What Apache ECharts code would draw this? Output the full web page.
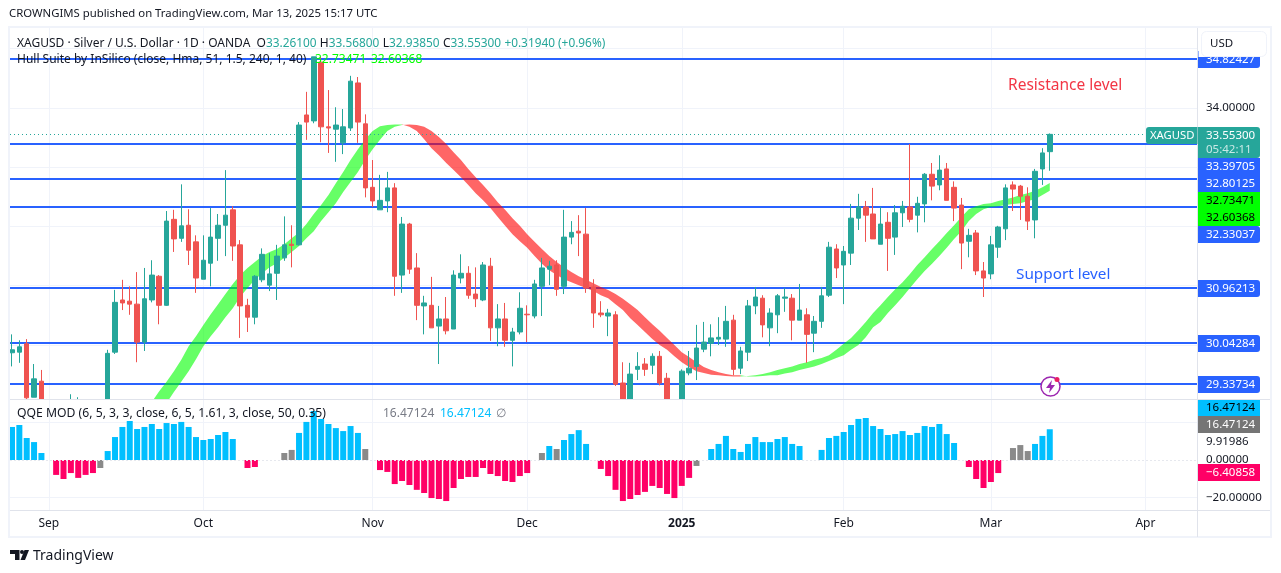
<!DOCTYPE html>
<html>
<head>
<meta charset="utf-8">
<title>XAGUSD</title>
<script src="https://cdn.jsdelivr.net/npm/echarts@6/dist/echarts.min.js"></script>
<style>
  html, body { margin: 0; padding: 0; background: #fff; }
  #chart { width: 1281px; height: 573px; }
</style>
</head>
<body>
<div id="chart"></div>
<script>
// daily candles, bar index 0 is the leftmost one
const opens = [
  29.87,29.88,30.02,29.12,29.39,28.90,28.72,28.85,28.73,29.03,
  28.80,28.65,28.80,28.82,29.88,30.76,30.74,30.69,30.05,30.76,
  31.16,30.67,32.12,31.80,32.02,31.74,31.11,31.38,31.80,32.02,
  32.28,31.69,30.67,30.47,31.10,31.01,31.21,31.47,31.70,31.69,
  33.88,33.78,34.77,33.68,33.64,33.41,33.66,34.42,33.73,32.66,
  32.28,32.43,32.65,31.18,32.04,31.30,30.66,30.67,30.32,30.44,
  30.27,31.13,31.21,30.86,30.76,31.33,30.29,30.44,30.08,30.22,
  30.52,30.49,30.99,31.28,31.35,30.99,31.82,31.92,31.87,30.98,
  30.54,30.49,30.51,29.36,28.82,29.59,29.68,29.66,29.81,29.44,
  28.90,28.90,29.53,29.64,29.93,30.03,30.10,30.10,30.42,29.61,
  29.88,30.66,30.79,30.29,30.51,30.79,30.79,30.42,30.51,30.20,
  30.40,30.84,31.62,31.35,31.55,32.14,32.33,32.21,31.70,32.07,
  31.82,32.23,32.33,32.19,32.38,32.88,32.70,32.97,32.66,32.36,
  31.75,31.89,31.25,31.20,31.65,31.96,32.70,32.68,32.51,32.11,
  32.97,33.261
];
const closes = [
  29.92,29.97,29.11,29.43,28.90,28.75,28.85,28.70,29.04,28.78,
  28.65,28.80,28.75,29.86,30.72,30.71,30.69,30.05,30.78,31.18,
  30.67,32.09,31.79,32.01,31.60,31.13,31.43,31.82,32.02,32.19,
  31.67,30.66,30.47,31.16,31.53,31.20,31.50,31.69,31.68,33.71,
  33.76,34.86,33.68,33.66,33.71,33.68,34.45,33.76,32.65,32.43,
  32.44,32.65,31.16,32.04,31.28,30.67,30.71,30.29,30.44,30.24,
  31.18,31.21,30.84,30.78,31.35,30.29,30.44,30.08,30.22,30.62,
  30.51,31.03,31.30,31.33,30.94,31.82,31.90,31.89,30.96,30.54,
  30.51,30.54,29.34,28.82,29.51,29.64,29.59,29.81,29.36,28.90,
  28.80,29.56,29.61,29.95,30.05,30.12,30.13,30.40,29.59,29.90,
  30.66,30.81,30.34,30.54,30.83,30.81,30.42,30.59,30.18,30.40,
  30.83,31.65,31.30,31.58,32.14,32.33,32.19,31.79,32.04,31.80,
  32.23,32.34,32.12,32.39,32.88,32.68,32.95,32.44,32.31,31.72,
  31.85,31.25,31.13,31.69,31.99,32.65,32.63,32.51,32.09,32.93,
  33.24,33.553
];
const lows = [
  29.64,29.70,29.04,29.12,28.83,28.60,28.60,28.55,28.65,28.70,
  28.55,28.50,28.60,28.75,29.85,30.59,30.51,29.71,29.90,30.72,
  30.35,30.66,31.57,31.74,31.35,30.88,31.11,30.99,31.42,31.50,
  31.42,30.12,30.22,30.35,31.06,30.91,30.76,31.42,31.31,31.68,
  33.46,33.74,33.42,33.24,33.09,33.22,33.61,33.41,32.49,32.33,
  32.28,32.24,30.83,30.88,31.20,30.42,30.18,30.29,29.68,30.18,
  30.27,31.04,30.78,30.64,30.74,30.07,29.98,29.97,29.64,30.18,
  30.05,30.45,30.49,31.01,30.83,30.86,31.70,31.50,30.88,30.29,
  30.47,30.15,29.31,28.73,28.73,29.41,29.48,29.51,29.32,28.82,
  28.70,28.82,29.49,29.41,29.88,29.81,30.00,29.97,29.49,29.51,
  29.73,30.52,30.13,29.98,30.20,30.56,30.08,30.42,29.70,29.88,
  30.29,30.81,31.13,30.69,31.35,31.94,31.74,31.79,31.70,31.25,
  31.52,31.99,32.07,31.90,32.07,32.44,32.61,32.44,32.09,31.28,
  31.48,31.18,30.81,31.11,31.47,31.77,32.26,32.11,31.94,31.80,
  32.70,32.9385
];
const highs = [
  30.18,30.08,30.10,29.68,29.58,28.98,28.95,28.98,29.17,29.12,
  28.95,28.90,28.95,29.92,30.93,31.10,30.99,31.23,31.30,31.43,
  31.18,32.26,32.28,32.71,32.29,31.85,31.85,32.31,32.21,32.95,
  32.34,31.77,30.78,31.18,31.63,31.55,31.69,32.17,32.02,33.76,
  34.27,34.86,34.86,34.30,34.01,33.98,34.54,34.52,33.89,33.12,
  32.87,32.92,32.73,32.16,32.06,31.55,30.83,31.15,30.66,30.81,
  31.26,31.53,31.33,31.31,31.40,31.47,30.69,30.71,30.29,30.89,
  30.67,31.10,31.47,31.42,31.43,32.28,32.09,32.19,32.31,31.11,
  30.74,30.61,30.57,29.71,29.70,29.88,29.78,29.86,29.90,29.53,
  29.00,29.59,29.90,30.34,30.39,30.35,30.47,30.66,30.51,29.97,
  30.76,30.98,30.84,30.62,30.86,30.96,30.86,31.03,30.62,30.49,
  30.98,31.74,31.70,31.67,32.38,32.55,32.43,32.65,32.33,32.24,
  32.36,32.43,33.39,32.50,32.90,33.07,33.20,33.07,32.76,32.48,
  31.96,31.94,31.40,31.84,32.01,32.71,32.76,32.70,32.66,32.97,
  33.32,33.568
];

// hull band, first value belongs to bar hullStart
const hullStart = 17;
const hullFast = [
  28.67,28.85,29.04,29.22,29.38,29.56,29.75,29.98,30.15,30.34,
  30.52,30.69,30.86,31.03,31.18,31.30,31.40,31.50,31.57,31.62,
  31.70,31.80,31.90,32.04,32.21,32.36,32.53,32.73,32.92,33.12,
  33.30,33.47,33.61,33.69,33.71,33.72,33.72,
  33.68,33.61,33.47,33.32,33.20,33.07,32.95,32.83,32.70,32.56,
  32.44,32.31,32.16,32.01,31.87,31.75,31.64,31.50,31.37,31.26,
  31.18,31.11,31.06,31.01,30.96,30.91,30.84,30.79,30.69,30.59,
  30.45,30.34,30.22,30.10,30.00,29.92,29.81,29.71,29.63,29.56,
  29.53,29.50,29.49,29.48,29.47,29.47,
  29.48,29.49,29.51,29.54,29.58,29.61,29.64,29.68,29.71,29.75,
  29.78,29.83,29.92,30.02,30.12,30.25,30.39,30.54,30.67,30.81,
  30.94,31.06,31.20,31.35,31.48,31.62,31.75,31.89,32.02,32.16,
  32.29,32.34,32.38,32.39,32.43,32.46,32.49,32.53,32.56,32.60,
  32.66,32.73471
];
const hullSlow = [
  28.28,28.45,28.65,28.84,29.02,29.21,29.38,29.56,29.76,29.98,
  30.15,30.30,30.47,30.62,30.81,30.96,31.10,31.21,31.31,31.38,
  31.47,31.57,31.67,31.80,31.92,32.09,32.24,32.39,32.58,32.75,
  32.92,33.12,33.30,33.46,33.61,33.68,33.71,
  33.72,33.71,33.68,33.61,33.51,33.39,33.25,33.12,32.97,32.83,
  32.70,32.56,32.41,32.28,32.14,32.01,31.87,31.74,31.62,31.50,
  31.40,31.31,31.23,31.16,31.10,31.04,30.98,30.93,30.86,30.78,
  30.69,30.59,30.47,30.35,30.24,30.12,30.00,29.88,29.80,29.71,
  29.63,29.58,29.54,29.51,29.49,29.49,
  29.47,29.47,29.48,29.49,29.49,29.52,29.54,29.58,29.61,29.64,
  29.68,29.73,29.78,29.83,29.92,30.00,30.13,30.30,30.39,30.54,
  30.67,30.81,30.96,31.11,31.25,31.37,31.50,31.64,31.79,31.92,
  32.09,32.21,32.29,32.33,32.34,32.36,32.38,32.39,32.43,32.46,
  32.53,32.60368
];

// QQE histogram, null where the picture has no bar
const qqeValues = [
  17.7,18.75,11.8,9.6,3.75,null,-8,-10.2,-7,-9.6,
  -8,-7,-4.3,4.8,12.3,17.7,20.9,16.6,17.7,19.3,
  16.6,19.8,19.3,20.4,17.7,12.3,10.7,11.25,13.4,15,
  11.25,null,-4.3,-3.75,null,null,null,3.75,5.4,14.5,
  20.4,26.25,22,19.3,17.1,15.5,18.2,14.5,5.9,null,
  -5.4,-6.4,-12.9,-11.25,-13.4,-16,-17.7,-20.4,-20.9,-22,
  -15,-10.2,-9.1,-9.1,-4.3,-7.5,-8.6,-11.25,-11.8,-8.6,
  -7,null,3.75,7.5,5.9,10.7,13.9,16,8.6,null,
  -4.8,-8.6,-16,-22,-20.9,-18.75,-17.1,-13.9,-15,-18.2,
  -20.4,-13.9,-9.6,-3.2,null,5.9,8.6,12.9,5.9,4.3,
  8.6,12.3,9.6,9.6,11.25,12.3,8.6,7.5,null,null,
  5.4,11.8,12.9,15,18.75,22,22.5,18.2,16.6,13.4,
  13.9,15.5,13.4,14.5,18.2,17.7,19.3,13.9,9.1,null,
  -3.75,-10.2,-15,-11.8,-7,null,6.4,8,4.8,8.6,
  12.9,16.47
];
const qqeNeutralBars = [12,37,38,48,72,74,93,136,137,138];

const monthBars = [5,26,49,70,91,113,133,154];
const monthLabels = ['Sep','Oct','Nov','Dec','2025','Feb','Mar','Apr'];

const levels = [34.82427,33.39705,32.80125,32.33037,30.96213,30.04284,29.33734];
const lastPrice = 33.553;
const priceGrid = [30,31,32,33,34,35];
const priceLabels = [34];
const qqeGrid = [-20,20];
const qqeLabels = [-20,0,9.91986];

const priceMin = 29.0817, priceMax = 35.3465;
const barMin = -0.27, barMax = 161.14;

const UP = '#26a69a', DOWN = '#ef5350', BLUE = '#2962ff', INK = '#131722';
const GRID = '#f0f3fa', EDGE = '#e0e3eb';
const FONT = '"Noto Sans", sans-serif';

const chart = echarts.init(document.getElementById('chart'));

// runs of the same hull direction, each run is one filled polygon
const hullRuns = [];
hullFast.forEach((f, k) => {
  const rising = f >= hullSlow[k];
  const last = hullRuns[hullRuns.length - 1];
  if (last && last.rising === rising) last.items.push(k);
  else hullRuns.push({ rising, items: last ? [last.items[last.items.length - 1], k] : [k] });
});

const renderHull = (params, api) => {
  const run = hullRuns[params.dataIndex];
  const edgeA = run.items.map(k => api.coord([k + hullStart, hullFast[k]]));
  const edgeB = run.items.map(k => api.coord([k + hullStart, hullSlow[k]])).reverse();
  return {
    type: 'polygon',
    shape: { points: edgeA.concat(edgeB) },
    style: { fill: run.rising ? 'rgba(0,255,0,0.6)' : 'rgba(255,0,0,0.6)' }
  };
};

const renderLevel = (params, api) => {
  const y = Math.round(api.coord([barMin, api.value(1)])[1]);
  const a = api.coord([barMin, priceMin]);
  const b = api.coord([barMax, priceMin]);
  return {
    type: 'line',
    shape: { x1: a[0], y1: y, x2: b[0], y2: y },
    style: { stroke: BLUE, lineWidth: 2 }
  };
};

// candles are cut at the bottom of the price pane
const cut = (v, high) => (high < priceMin ? v : Math.max(v, priceMin));

function txt(x, y, text, color, extra) {
  return {
    type: 'text', x: x, y: y, z: 30, silent: true,
    style: Object.assign({
      text: text, fill: color, font: '11.5px ' + FONT, textVerticalAlign: 'middle'
    }, extra || {})
  };
}
function box(x, y, w, h, fill, r, z) {
  return {
    type: 'rect', z: z || 20, silent: true,
    shape: { x: x, y: y, width: w, height: h, r: r || 0 },
    style: { fill: fill }
  };
}
const tagR = [0, 3, 3, 0];
const f5 = v => v.toFixed(5);
const LEGEND = '12px ' + FONT;

const graphics = [
  // frame of the chart
  { type: 'rect', z: 9, silent: true, shape: { x: 9, y: 27, width: 1262, height: 510 }, style: { fill: 'none', stroke: GRID, lineWidth: 2 } },
  { type: 'line', z: 9, silent: true, shape: { x1: 1197.5, y1: 28, x2: 1197.5, y2: 537 }, style: { stroke: EDGE, lineWidth: 1 } },
  { type: 'line', z: 9, silent: true, shape: { x1: 10, y1: 399.5, x2: 1270, y2: 399.5 }, style: { stroke: EDGE, lineWidth: 1 } },
  { type: 'line', z: 9, silent: true, shape: { x1: 10, y1: 510.5, x2: 1270, y2: 510.5 }, style: { stroke: EDGE, lineWidth: 1 } },

  txt(9, 14, 'CROWNGIMS published on TradingView.com, Mar 13, 2025 15:17 UTC', INK, { font: '11.35px ' + FONT }),

  // legends
  {
    type: 'text', x: 17, y: 44, z: 30, silent: true,
    style: {
      text: '{k|XAGUSD · Silver / U.S. Dollar · 1D · OANDA  O}{v|33.26100} {k|H}{v|33.56800} {k|L}{v|32.93850} {k|C}{v|33.55300} {v|+0.31940 (+0.96%)}',
      textVerticalAlign: 'middle',
      rich: {
        k: { fill: INK, font: LEGEND },
        v: { fill: UP, font: '11.85px ' + FONT }
      }
    }
  },
  txt(17, 60, 'Hull Suite by InSilico (close, Hma, 51, 1.5, 240, 1, 40)', INK, { font: LEGEND }),
  txt(315, 60, f5(hullFast[hullFast.length - 1]), '#00ff00', { font: LEGEND }),
  txt(371, 60, f5(hullSlow[hullSlow.length - 1]), '#00ff00', { font: LEGEND }),
  txt(17, 414, 'QQE MOD (6, 5, 3, 3, close, 6, 5, 1.61, 3, close, 50, 0.35)', INK, { font: '12.2px ' + FONT }),
  txt(383, 414, '16.47124', '#787b86', { font: LEGEND }),
  txt(440, 414, '16.47124', '#00bfff', { font: LEGEND }),
  txt(496, 414, '∅', '#787b86', { font: LEGEND }),

  // annotations
  txt(1008, 86, 'Resistance level', '#f23645', { font: '15.5px ' + FONT }),
  txt(1016, 275, 'Support level', BLUE, { font: '15.3px ' + FONT }),

  // alert icon
  { type: 'circle', z: 21, silent: true, shape: { cx: 1050.5, cy: 386.5, r: 9.5 }, style: { fill: '#fff', stroke: '#9c27b0', lineWidth: 1.5 } },
  { type: 'polygon', z: 22, silent: true, shape: { points: [[1052, 380], [1046, 388], [1050, 388], [1049, 393], [1055, 385], [1051, 385]] }, style: { fill: '#9c27b0' } },
  { type: 'circle', z: 23, silent: true, shape: { cx: 1057, cy: 379.5, r: 2.5 }, style: { fill: '#e91e63' } },

  // tags on the price scale, the top one slides under the currency box
  box(1198, 51, 62, 17, BLUE, tagR),
  Object.assign(txt(1206, 60, f5(levels[0]), '#fff'), { z: 21 }),
  { type: 'rect', z: 25, silent: true, shape: { x: 1198.5, y: 28, width: 71, height: 29 }, style: { fill: '#fff' } },
  { type: 'rect', z: 26, silent: true, shape: { x: 1201.5, y: 31.5, width: 65, height: 25, r: 5 }, style: { fill: '#fff', stroke: GRID, lineWidth: 1 } },
  txt(1210, 44, 'USD', INK),

  box(1146, 127, 51.5, 17, UP, [3, 0, 0, 3]),
  txt(1150, 135.5, 'XAGUSD', '#fff', { font: '11.3px ' + FONT }),
  box(1198, 127, 62, 31, UP, tagR),
  txt(1206, 135.5, lastPrice.toFixed(5), '#fff'),
  txt(1206, 149.5, '05:42:11', 'rgba(255,255,255,0.75)'),

  box(1198, 158, 62, 34, BLUE),
  txt(1206, 167, f5(levels[1]), '#fff'),
  txt(1206, 184, f5(levels[2]), '#fff'),
  box(1198, 192, 62, 34, '#00ff00'),
  txt(1206, 201, f5(hullFast[hullFast.length - 1]), '#000'),
  txt(1206, 218, f5(hullSlow[hullSlow.length - 1]), '#000'),
  box(1198, 226, 62, 17, BLUE, tagR),
  txt(1206, 234.5, f5(levels[3]), '#fff'),
  box(1198, 280, 62, 17, BLUE, tagR),
  txt(1206, 288.5, f5(levels[4]), '#fff'),
  box(1198, 335, 62, 17, BLUE, tagR),
  txt(1206, 343.5, f5(levels[5]), '#fff'),
  box(1198, 376, 62, 17, BLUE, tagR),
  txt(1206, 384.5, f5(levels[6]), '#fff'),

  box(1198, 400, 62, 16, '#00bfff'),
  txt(1206, 408, f5(16.47124), '#000'),
  box(1198, 416, 62, 17, '#757575'),
  txt(1206, 424.5, f5(16.47124), '#fff'),
  box(1198, 464, 62, 17, '#ff0066'),
  txt(1206, 472.5, '−6.40858', '#fff'),

  // logo
  { type: 'polygon', z: 30, silent: true, shape: { points: [[10, 550], [19.5, 550], [19.5, 560], [15, 560], [15, 554], [10, 554]] }, style: { fill: INK } },
  { type: 'circle', z: 30, silent: true, shape: { cx: 22, cy: 552, r: 2 }, style: { fill: INK } },
  { type: 'polygon', z: 30, silent: true, shape: { points: [[24.5, 550], [29, 550], [25, 560], [20.5, 560]] }, style: { fill: INK } },
  txt(33, 556, 'TradingView', INK, { font: '14px ' + FONT })
];

const option = {
  animation: false,
  backgroundColor: '#fff',
  textStyle: { fontFamily: FONT },
  graphic: graphics,
  grid: [
    { left: 10, top: 28, width: 1188, height: 371.5 },
    { left: 10, top: 400, width: 1188, height: 110 }
  ],
  xAxis: [
    {
      type: 'value', gridIndex: 0, min: barMin, max: barMax,
      axisLine: { show: false }, axisLabel: { show: false },
      axisTick: { show: false, customValues: monthBars },
      splitLine: { show: true, lineStyle: { color: GRID, width: 1 } }
    },
    {
      type: 'value', gridIndex: 1, min: barMin, max: barMax,
      axisLine: { show: false },
      axisTick: { show: false, customValues: monthBars },
      axisLabel: {
        customValues: monthBars, margin: 8, fontSize: 12, color: INK, fontFamily: FONT,
        formatter: v => {
          const name = monthLabels[monthBars.indexOf(v)];
          return name === '2025' ? '{y|' + name + '}' : name;
        },
        rich: { y: { fontWeight: 'bold', fontSize: 12, color: INK, fontFamily: FONT } }
      },
      splitLine: { show: true, lineStyle: { color: GRID, width: 1 } }
    }
  ],
  yAxis: [
    {
      type: 'value', gridIndex: 0, position: 'right', min: priceMin, max: priceMax,
      axisLine: { show: false },
      axisTick: { show: false, customValues: priceGrid },
      axisLabel: { customValues: priceLabels, margin: 8, fontSize: 11.5, color: INK, fontFamily: FONT, formatter: v => v.toFixed(5) },
      splitLine: { show: true, lineStyle: { color: GRID, width: 1 } }
    },
    {
      type: 'value', gridIndex: 1, position: 'right', min: -26.8, max: 32.15,
      axisLine: { show: false },
      axisTick: { show: false, customValues: qqeGrid },
      axisLabel: {
        customValues: qqeLabels, margin: 8, fontSize: 11.5, color: INK, fontFamily: FONT,
        formatter: v => v.toFixed(5).replace('-', '−')
      },
      splitLine: { show: true, lineStyle: { color: GRID, width: 1 } }
    }
  ],
  series: [
    {
      type: 'custom', xAxisIndex: 0, yAxisIndex: 0, z: 1, silent: true, clip: true,
      renderItem: renderLevel,
      data: levels.map(v => [barMin, v])
    },
    {
      type: 'custom', xAxisIndex: 0, yAxisIndex: 0, z: 2, silent: true, clip: true,
      renderItem: renderHull,
      data: hullRuns.map((run, r) => [r])
    },
    {
      type: 'candlestick', xAxisIndex: 0, yAxisIndex: 0, z: 3, barWidth: 5, silent: true,
      itemStyle: { color: UP, color0: DOWN, borderColor: UP, borderColor0: DOWN, borderWidth: 1 },
      encode: { x: 0, y: [1, 2, 3, 4] },
      data: opens.map((o, i) => [i, cut(o, highs[i]), cut(closes[i], highs[i]), cut(lows[i], highs[i]), highs[i]]),
      markLine: {
        z: 4, silent: true, symbol: 'none', animation: false, label: { show: false },
        lineStyle: { color: UP, width: 1, type: [1, 3] },
        data: [{ yAxis: lastPrice }]
      }
    },
    {
      type: 'bar', xAxisIndex: 1, yAxisIndex: 1, z: 3, barWidth: 6, silent: true,
      data: qqeValues.map((v, i) => ({
        value: [i, v],
        itemStyle: { color: qqeNeutralBars.includes(i) ? '#8a8a8a' : (v > 0 ? '#00bfff' : '#ff0066') }
      })),
      markLine: {
        z: 5, silent: true, symbol: 'none', animation: false, label: { show: false },
        lineStyle: { color: '#e6e8ee', width: 1, type: [2, 2] },
        data: [{ yAxis: 0 }]
      }
    }
  ]
};
chart.setOption(option);
</script>
</body>
</html>
